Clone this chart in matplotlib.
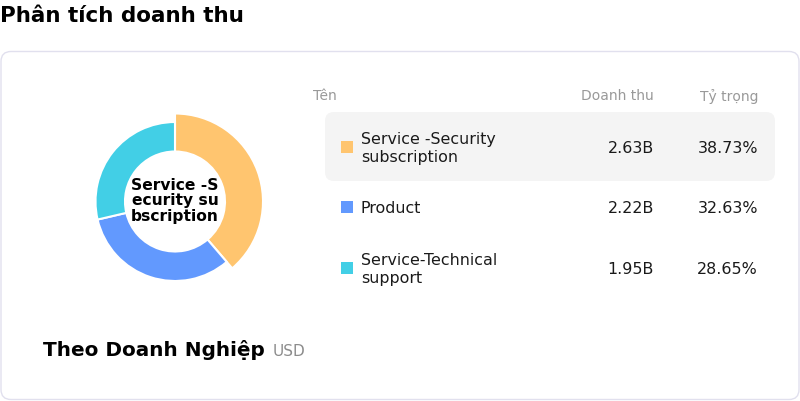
import matplotlib
matplotlib.use("Agg")
import matplotlib.pyplot as plt
from matplotlib.patches import FancyBboxPatch, Rectangle

plt.rcParams['font.family'] = ['DejaVu Sans']

# data
names = ['Service -Security\nsubscription', 'Product', 'Service-Technical\nsupport']
revenue = [2.63, 2.22, 1.95]          # tỷ USD
share = [38.73, 32.63, 28.65]         # %
colors = ['#FFC56F', '#6299FE', '#42CFE6']
center_label = 'Service -S\necurity su\nbscription'

W, H = 800, 402
fig = plt.figure(figsize=(W / 100, H / 100), dpi=100)
fig.patch.set_facecolor('white')

# khung nền dùng toạ độ pixel
ax = fig.add_axes([0, 0, 1, 1])
ax.set_xlim(0, W)
ax.set_ylim(H, 0)
ax.axis('off')

ax.text(0, 22, 'Phân tích doanh thu', fontsize=15.5, fontweight='bold',
        ha='left', va='baseline', color='black')

card = FancyBboxPatch((1, 52.5), 798, 348, boxstyle='round,pad=0,rounding_size=10',
                      facecolor='white', edgecolor='#e1e0ee', linewidth=1)
ax.add_patch(card)

# hàng được chọn
hl = FancyBboxPatch((325, 113), 450, 69, boxstyle='round,pad=0,rounding_size=9',
                    facecolor='#f4f4f4', edgecolor='none')
ax.add_patch(hl)

# tiêu đề bảng
hdr_col = '#999999'
ax.text(313, 100.5, 'Tên', fontsize=10, color=hdr_col, ha='left', va='baseline')
ax.text(654, 100.5, 'Doanh thu', fontsize=10, color=hdr_col, ha='right', va='baseline')
ax.text(758, 100.5, 'Tỷ trọng', fontsize=10, color=hdr_col, ha='right', va='baseline')

row_y = [148, 208, 269]
for i, (nm, rv, sh, c) in enumerate(zip(names, revenue, share, colors)):
    y = row_y[i]
    ax.add_patch(Rectangle((341, y - 6), 12, 12, facecolor=c, edgecolor='none'))
    ax.text(361, y + 0.5, nm, fontsize=11.4, color='#1a1a1a', ha='left', va='center',
            linespacing=1.28)
    ax.text(654, y + 1, f'{rv:.2f}B', fontsize=11.4, color='#1a1a1a', ha='right', va='center')
    ax.text(758, y + 1, f'{sh:.2f}%', fontsize=11.4, color='#1a1a1a', ha='right', va='center')

ax.text(43, 356, 'Theo Doanh Nghiệp', fontsize=14.4, fontweight='bold',
        ha='left', va='baseline', color='black')
ax.text(273, 356, 'USD', fontsize=11, color='#8c8c8c', ha='left', va='baseline')

# biểu đồ donut
cx, cy, half = 175, 202.5, 100
pax = fig.add_axes([(cx - half) / W, (H - cy - half) / H, 2 * half / W, 2 * half / H])
r_out, r_in = 79.5, 50
wedges, _ = pax.pie(share, colors=colors, startangle=90, counterclock=False,
                    radius=r_out, frame=False,
                    wedgeprops=dict(width=r_out - r_in, edgecolor='white', linewidth=1.5))
# phần đang chọn phóng to
wedges[0].set_radius(88)
wedges[0].set_width(88 - r_in)
pax.set_xlim(-half, half)
pax.set_ylim(-half, half)
pax.set_aspect('equal')
pax.axis('off')

pax.text(0, 1.5, center_label, fontsize=11.2, fontweight='bold', ha='center',
         va='center', linespacing=1.05, color='black')

fig.savefig('out.png', dpi=100, facecolor='white')
